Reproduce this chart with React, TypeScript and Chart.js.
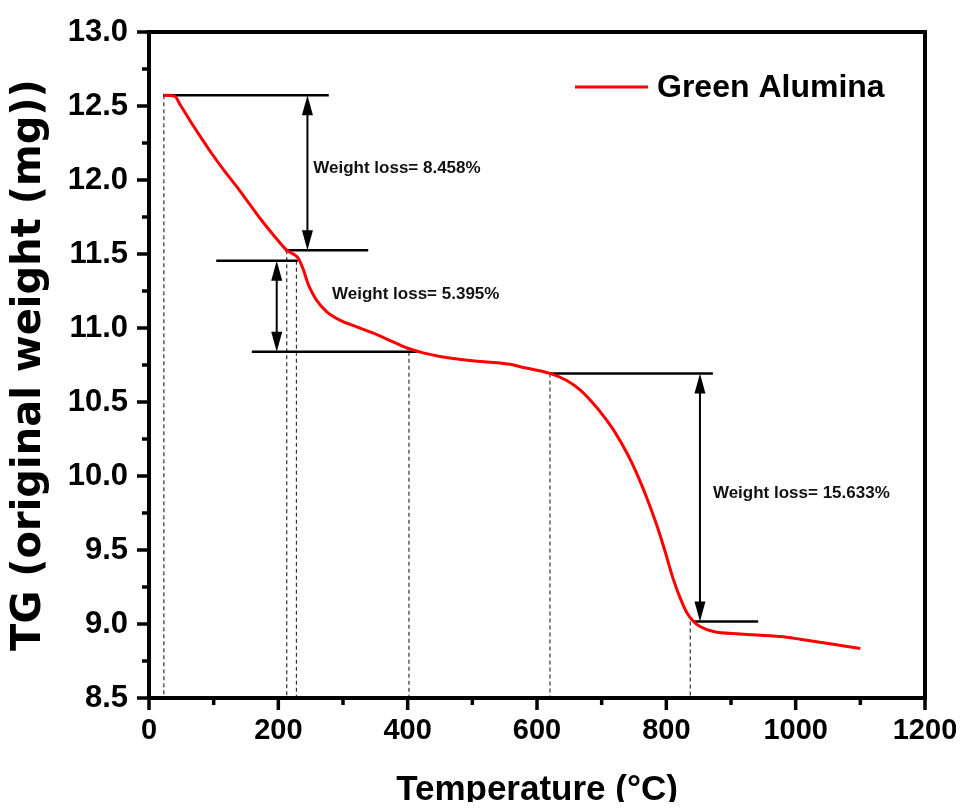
import { useEffect, useRef } from 'react';
import { Chart, registerables } from 'chart.js';

Chart.register(...registerables);

// ---- Data ----
const temperatureC = [23, 40, 48, 63, 80, 97, 116, 136, 155, 174, 194, 213, 226, 231, 239, 244, 249, 259, 275, 295, 321, 347, 373, 399, 424, 450, 496, 558, 574, 620, 646, 667, 687, 703, 720, 739, 754, 770, 785, 796, 811, 821, 832, 842, 852, 873, 914, 976, 1007, 1048, 1100];
const weightMg = [12.572, 12.566, 12.51, 12.404, 12.29, 12.179, 12.065, 11.953, 11.84, 11.728, 11.62, 11.526, 11.492, 11.47, 11.391, 11.323, 11.267, 11.188, 11.109, 11.053, 11.008, 10.965, 10.915, 10.865, 10.832, 10.808, 10.78, 10.755, 10.738, 10.693, 10.645, 10.58, 10.49, 10.405, 10.3, 10.155, 10.02, 9.85, 9.67, 9.52, 9.3, 9.18, 9.075, 9.017, 8.983, 8.949, 8.933, 8.915, 8.897, 8.87, 8.835];

const seriesName = 'Green Alumina';
const xTitle = 'Temperature (°C)';
const yTitle = 'TG (original weight (mg))';

const xMajorTicks = [0, 200, 400, 600, 800, 1000, 1200];
const xMinorTicks = [100, 300, 500, 700, 900, 1100];
const yMajorTicks = [8.5, 9.0, 9.5, 10.0, 10.5, 11.0, 11.5, 12.0, 12.5, 13.0];
const yMinorTicks = [8.75, 9.25, 9.75, 10.25, 10.75, 11.25, 11.75, 12.25, 12.75];

// annotation: weight-loss labels
const lossLabels = ['Weight loss= 8.458%', 'Weight loss= 5.395%', 'Weight loss= 15.633%'];
const lossLabelX = [254, 283, 872];
const lossLabelY = [12.08, 11.23, 9.88];

// annotation: horizontal level lines
const levelY = [12.572, 11.526, 11.454, 10.839, 10.693, 9.017];
const levelX0 = [22, 210, 104, 159, 620, 842];
const levelX1 = [278, 339, 230, 414, 872, 942];

// annotation: double-headed arrows
const arrowX = [245, 197.5, 852];
const arrowTop = [12.572, 11.454, 10.693];
const arrowBottom = [11.526, 10.839, 9.017];

// annotation: dashed drop lines
const dropX = [23, 213, 228, 402, 620, 837];
const dropTop = [12.572, 11.526, 11.454, 10.839, 10.693, 9.017];

const FONT = "'Liberation Sans', Arial, sans-serif";

const decor = {
  id: 'decor',
  beforeDatasetsDraw(chart: any) {
    const { ctx, chartArea: ca } = chart;
    const x = chart.scales.x;
    const y = chart.scales.y;
    ctx.save();
    // dashed drop lines
    ctx.strokeStyle = '#333';
    ctx.lineWidth = 1.2;
    ctx.setLineDash([4, 3]);
    dropX.forEach((v, i) => {
      const px = x.getPixelForValue(v);
      ctx.beginPath();
      ctx.moveTo(px, y.getPixelForValue(dropTop[i]));
      ctx.lineTo(px, ca.bottom);
      ctx.stroke();
    });
    ctx.setLineDash([]);
    // level lines
    ctx.strokeStyle = '#000';
    ctx.lineWidth = 2.5;
    levelY.forEach((v, i) => {
      const py = y.getPixelForValue(v);
      ctx.beginPath();
      ctx.moveTo(x.getPixelForValue(levelX0[i]), py);
      ctx.lineTo(x.getPixelForValue(levelX1[i]), py);
      ctx.stroke();
    });
    // arrows
    const head = 20;
    const half = 5.5;
    ctx.lineWidth = 2;
    ctx.fillStyle = '#000';
    arrowX.forEach((v, i) => {
      const px = x.getPixelForValue(v);
      const pt = y.getPixelForValue(arrowTop[i]);
      const pb = y.getPixelForValue(arrowBottom[i]);
      ctx.beginPath();
      ctx.moveTo(px, pt + head - 2);
      ctx.lineTo(px, pb - head + 2);
      ctx.stroke();
      ctx.beginPath();
      ctx.moveTo(px, pt);
      ctx.lineTo(px - half, pt + head);
      ctx.lineTo(px + half, pt + head);
      ctx.closePath();
      ctx.fill();
      ctx.beginPath();
      ctx.moveTo(px, pb);
      ctx.lineTo(px - half, pb - head);
      ctx.lineTo(px + half, pb - head);
      ctx.closePath();
      ctx.fill();
    });
    ctx.restore();
  },
  afterDraw(chart: any) {
    const { ctx, chartArea: ca } = chart;
    const x = chart.scales.x;
    const y = chart.scales.y;
    ctx.save();
    // labels
    ctx.fillStyle = '#111';
    ctx.font = `bold 17px ${FONT}`;
    ctx.textAlign = 'left';
    ctx.textBaseline = 'middle';
    lossLabels.forEach((t, i) => {
      ctx.fillText(t, x.getPixelForValue(lossLabelX[i]), y.getPixelForValue(lossLabelY[i]));
    });
    // legend
    ctx.strokeStyle = 'red';
    ctx.lineWidth = 3;
    ctx.beginPath();
    ctx.moveTo(ca.left + 426, ca.top + 55);
    ctx.lineTo(ca.left + 499, ca.top + 55);
    ctx.stroke();
    ctx.fillStyle = '#000';
    ctx.font = `bold 32px ${FONT}`;
    ctx.fillText(seriesName, ca.left + 508, ca.top + 56);
    // frame
    ctx.strokeStyle = '#000';
    ctx.lineWidth = 4;
    ctx.strokeRect(ca.left, ca.top, ca.right - ca.left, ca.bottom - ca.top);
    // ticks
    ctx.lineWidth = 3.5;
    xMajorTicks.forEach((v) => {
      const px = x.getPixelForValue(v);
      ctx.beginPath(); ctx.moveTo(px, ca.bottom); ctx.lineTo(px, ca.bottom + 12); ctx.stroke();
    });
    xMinorTicks.forEach((v) => {
      const px = x.getPixelForValue(v);
      ctx.beginPath(); ctx.moveTo(px, ca.bottom); ctx.lineTo(px, ca.bottom + 7); ctx.stroke();
    });
    yMajorTicks.forEach((v) => {
      const py = y.getPixelForValue(v);
      ctx.beginPath(); ctx.moveTo(ca.left, py); ctx.lineTo(ca.left - 12, py); ctx.stroke();
    });
    yMinorTicks.forEach((v) => {
      const py = y.getPixelForValue(v);
      ctx.beginPath(); ctx.moveTo(ca.left, py); ctx.lineTo(ca.left - 7, py); ctx.stroke();
    });
    ctx.restore();
  },
};

export default function App() {
  const ref = useRef<HTMLCanvasElement>(null);
  useEffect(() => {
    if (!ref.current) return;
    const points = temperatureC.map((t, i) => ({ x: t, y: weightMg[i] }));
    const chart = new Chart(ref.current, {
      type: 'line',
      data: {
        datasets: [
          {
            label: seriesName,
            data: points,
            borderColor: 'red',
            borderWidth: 3,
            pointRadius: 0,
            fill: false,
            cubicInterpolationMode: 'monotone',
          },
        ],
      },
      options: {
        responsive: false,
        animation: false,
        events: [],
        layout: { padding: { left: 0, top: 24, right: 39, bottom: 0 } },
        plugins: { legend: { display: false }, tooltip: { enabled: false } },
        scales: {
          x: {
            type: 'linear',
            min: 0,
            max: 1200,
            afterFit: (s: any) => { s.height = 104; s.paddingLeft = 0; s.paddingRight = 0; },
            border: { display: false },
            grid: { drawOnChartArea: false, drawTicks: true, tickLength: 10, tickColor: 'rgba(0,0,0,0)' },
            ticks: {
              stepSize: 200,
              padding: 6,
              color: '#000',
              maxRotation: 0,
              font: { family: FONT, size: 29, weight: 'bold' },
              callback: (v: any) => String(v),
            },
            title: {
              display: true,
              text: xTitle,
              color: '#000',
              padding: 0,
              font: { family: FONT, size: 35, weight: 'bold', lineHeight: 0.66 },
            },
          },
          y: {
            type: 'linear',
            min: 8.5,
            max: 13,
            afterFit: (s: any) => { s.width = 141; s.paddingTop = 0; s.paddingBottom = 0; },
            border: { display: false },
            grid: { drawOnChartArea: false, drawTicks: true, tickLength: 10, tickColor: 'rgba(0,0,0,0)' },
            ticks: {
              stepSize: 0.5,
              padding: 11,
              color: '#000',
              font: { family: FONT, size: 31, weight: 'bold' },
              callback: (v: any) => Number(v).toFixed(1),
            },
            title: {
              display: true,
              text: yTitle,
              color: '#000',
              padding: 0,
              font: { family: "'DejaVu Sans', sans-serif", size: 40, weight: 'bold', lineHeight: 1.1 },
            },
          },
        },
      },
      plugins: [decor],
    });
    return () => chart.destroy();
  }, []);
  return (
    <canvas
      ref={ref}
      width={956}
      height={794}
      style={{ display: 'block', width: 956, height: 794 }}
    />
  );
}
